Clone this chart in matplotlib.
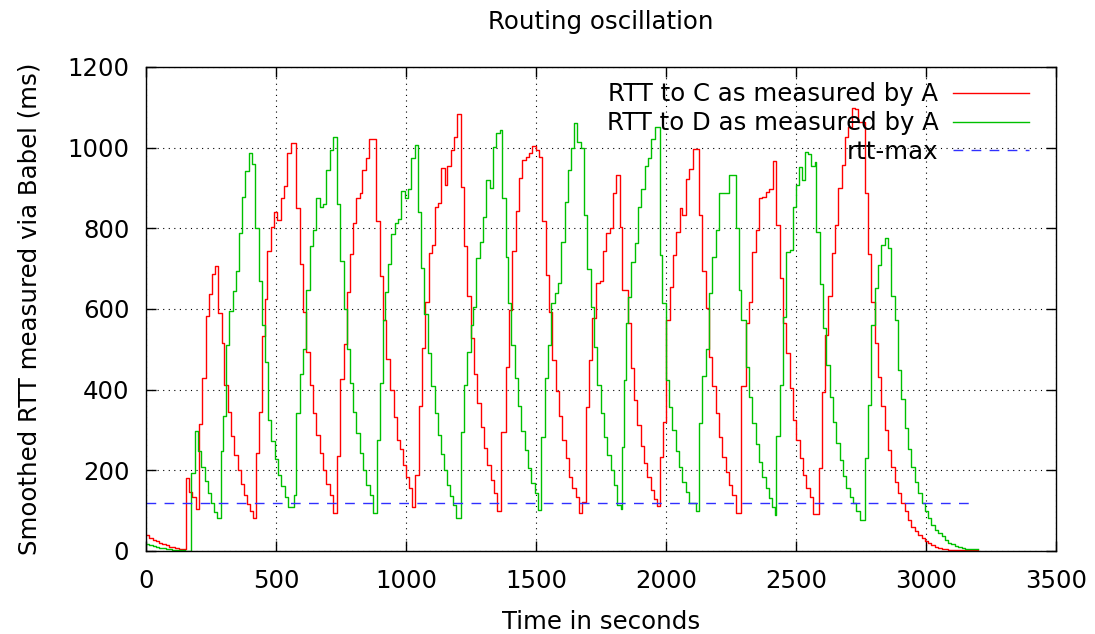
import matplotlib
matplotlib.use("Agg")
import matplotlib.pyplot as plt

# smoothed RTT to C (red) : step start time (s) and value (ms)
red_t = [0, 12, 25, 37, 50, 62, 75, 87, 100, 112, 125, 137,
         152, 165, 178, 191, 204, 217, 229, 242, 253, 265, 278, 291, 301, 314, 327, 340, 353, 365, 376, 388, 399, 412, 422, 435, 445,
         456, 467, 480, 492, 505, 518, 531, 544, 556, 578, 591, 604, 617, 630, 642, 655, 668, 681, 694, 706, 719, 735, 748, 760, 773, 786, 796, 809, 822, 832, 845, 858, 886, 899,
         912, 924, 940, 953, 965, 978, 988, 1001, 1012, 1024, 1036, 1049, 1062, 1074, 1087, 1100, 1110, 1123, 1136, 1149, 1159, 1172, 1185, 1197, 1210, 1223, 1236, 1249, 1262, 1274, 1287, 1300, 1313, 1326, 1338, 1351, 1367,
         1383, 1396, 1409, 1422, 1435, 1447, 1460, 1473, 1486, 1499, 1512, 1524, 1537, 1550, 1563, 1576, 1588, 1601, 1614, 1627, 1640, 1653, 1665, 1678, 1691, 1704, 1717, 1729, 1745, 1758, 1771, 1783, 1796, 1809, 1822, 1832,
         1854, 1864, 1877, 1890, 1903, 1915, 1928, 1941, 1954, 1967, 1976, 1988, 2001, 2014, 2027, 2040, 2053, 2063, 2076, 2089, 2104, 2127, 2140, 2153, 2165, 2178, 2191, 2204, 2217, 2229, 2242, 2255, 2268, 2290,
         2306, 2319, 2332, 2345, 2358, 2371, 2383, 2396, 2412, 2424, 2437, 2450, 2463, 2476, 2488, 2501, 2514, 2527, 2540, 2553, 2565, 2589, 2599, 2612, 2624, 2637, 2650, 2663, 2676, 2689, 2701, 2714, 2727, 2740,
         2766, 2777, 2790, 2803, 2815, 2828, 2841, 2854, 2867, 2880, 2893, 2905, 2918, 2931, 2944, 2958, 2970, 2983, 2996, 3008, 3021, 3034, 3047, 3060, 3073, 3086, 3111, 3200]
red_v = [40, 33, 28, 24, 20, 17, 14, 11, 9, 7, 5, 4,
         180, 147, 133, 104, 314, 430, 583, 637, 686, 707, 589, 515, 412, 344, 286, 238, 201, 165, 140, 116, 99, 81, 242, 344, 533,
         626, 745, 804, 841, 821, 874, 906, 986, 1012, 850, 711, 592, 494, 412, 343, 288, 242, 201, 165, 139, 95, 236, 426, 512, 641, 736, 814, 876, 888, 945, 974, 1021, 817, 682,
         573, 475, 399, 331, 275, 252, 213, 184, 157, 110, 188, 360, 504, 617, 738, 759, 852, 864, 949, 907, 955, 994, 1027, 1083, 903, 757, 631, 527, 440, 368, 307, 255, 213, 176, 145, 99, 296,
         457, 597, 744, 844, 926, 969, 978, 986, 1004, 994, 978, 817, 684, 593, 474, 397, 335, 275, 230, 183, 155, 133, 93, 122, 358, 474, 578, 665, 670, 744, 788, 802, 887, 932, 804, 648,
         565, 453, 374, 313, 261, 219, 183, 151, 128, 112, 234, 321, 572, 654, 733, 791, 850, 833, 922, 946, 996, 833, 694, 602, 482, 408, 343, 283, 234, 197, 164, 139, 95, 408,
         565, 618, 741, 796, 874, 877, 891, 897, 967, 808, 676, 565, 490, 403, 325, 275, 230, 188, 155, 133, 92, 206, 395, 536, 631, 738, 808, 899, 957, 1027, 1052, 1098, 1095, 1064,
         887, 737, 618, 515, 432, 360, 300, 250, 209, 172, 143, 118, 98, 77, 60, 50, 40, 33, 26, 19, 15, 11, 8, 6, 4, 3, 2, 2]

# smoothed RTT to D (green)
green_t = [0, 12, 25, 37, 50, 62, 75, 87, 100, 112, 125, 137, 150, 162,
           174, 187, 200, 213, 226, 238, 249, 262, 274, 287, 297, 308, 320, 333, 346, 359, 369, 382, 395, 408, 420, 433, 446,
           456, 469, 482, 495, 508, 521, 533, 546, 559, 568, 578, 591, 604, 617, 630, 642, 655, 668, 681, 694, 706, 719, 735, 748, 760, 773, 783, 796, 809, 822, 835, 848, 861, 873, 889, 899,
           912, 918, 931, 944, 956, 969, 982, 995, 1008, 1020, 1033, 1046, 1059, 1071, 1084, 1097, 1110, 1123, 1136, 1146, 1156, 1169, 1182, 1192, 1210, 1223, 1236, 1249, 1258, 1271, 1283, 1296, 1309, 1322, 1335, 1347, 1360, 1369,
           1383, 1392, 1405, 1418, 1431, 1444, 1456, 1469, 1482, 1495, 1508, 1521, 1533, 1546, 1559, 1572, 1585, 1598, 1610, 1623, 1636, 1646, 1659, 1672, 1685, 1697, 1710, 1723, 1736, 1749, 1762, 1774, 1787, 1800, 1813, 1826, 1832,
           1838, 1845, 1854, 1867, 1880, 1892, 1905, 1918, 1931, 1944, 1957, 1976, 1986, 1999, 2012, 2024, 2037, 2050, 2063, 2076, 2089, 2102, 2115, 2127, 2140, 2153, 2165, 2178, 2191, 2204, 2217, 2242, 2268, 2281, 2290,
           2306, 2319, 2332, 2345, 2358, 2371, 2383, 2396, 2409, 2418, 2424, 2437, 2450, 2463, 2476, 2488, 2501, 2512, 2524, 2533, 2546, 2559, 2572, 2578, 2591, 2604, 2617, 2629, 2642, 2655, 2668, 2681, 2694, 2706, 2719, 2732, 2745,
           2764, 2777, 2790, 2803, 2815, 2828, 2841, 2854, 2867, 2880, 2893, 2905, 2918, 2931, 2944, 2958, 2970, 2983, 2996, 3008, 3021, 3034, 3047, 3060, 3073, 3086, 3098, 3111, 3124, 3137, 3149, 3162, 3188, 3200]
green_v = [18, 15, 12, 10, 8, 7, 5, 4, 3, 3, 2, 2, 1, 1,
           194, 298, 249, 209, 174, 145, 118, 97, 81, 249, 335, 511, 596, 645, 693, 789, 877, 942, 988, 960, 802, 670, 560,
           469, 326, 273, 227, 188, 160, 133, 110, 108, 139, 343, 440, 500, 647, 755, 796, 874, 853, 860, 945, 994, 1027, 860, 719, 600, 502, 417, 345, 292, 244, 201, 164, 139, 95, 274, 416,
           573, 643, 711, 787, 812, 824, 893, 876, 897, 975, 1007, 841, 701, 587, 490, 409, 343, 288, 240, 201, 164, 137, 114, 81, 296, 412, 494, 560, 606, 726, 767, 829, 920, 899, 1001, 1037, 1045, 874,
           730, 614, 511, 429, 360, 298, 250, 207, 169, 143, 102, 283, 429, 511, 614, 640, 664, 766, 866, 945, 998, 1060, 1015, 998, 833, 700, 604, 507, 412, 343, 283, 238, 202, 164, 114, 105, 257,
           424, 565, 630, 716, 763, 854, 897, 955, 974, 1021, 1052, 735, 614, 424, 358, 300, 249, 209, 172, 147, 118, 118, 98, 317, 433, 500, 640, 730, 796, 887, 887, 933, 800, 648, 572,
           457, 383, 318, 265, 221, 184, 155, 131, 110, 89, 286, 412, 581, 741, 747, 852, 907, 953, 920, 990, 985, 955, 965, 792, 661, 552, 461, 383, 320, 267, 226, 186, 155, 133, 118, 100, 77,
           230, 362, 560, 651, 709, 759, 775, 750, 631, 572, 449, 378, 304, 253, 209, 172, 143, 118, 98, 81, 64, 52, 44, 36, 27, 21, 17, 12, 9, 7, 5, 4, 5, 5]

rtt_max_t = [0, 3170]
rtt_max_v = [120, 120]

plt.rcParams["font.family"] = "DejaVu Sans"
plt.rcParams["font.size"] = 17.6

fig = plt.figure(figsize=(10.95, 6.34), dpi=100, facecolor="white")
ax = fig.add_axes([146 / 1095, 1 - 551 / 634, 910 / 1095, 484 / 634])

ax.step(red_t, red_v, where="post", color="#ff0000", lw=1.0,
        label="RTT to C as measured by A")
ax.step(green_t, green_v, where="post", color="#00c000", lw=1.0,
        label="RTT to D as measured by A")
ax.plot(rtt_max_t, rtt_max_v, color="#3030ff", lw=1.0, dashes=(7, 6),
        label="rtt-max")

ax.set_xlim(0, 3500)
ax.set_ylim(0, 1200)
ax.set_xticks(range(0, 3501, 500))
ax.set_yticks(range(0, 1201, 200))
ax.grid(True, color="black", lw=0.8, ls=(0, (1, 4)))
ax.tick_params(direction="in", length=7, width=1, top=True, right=True)
ax.tick_params(axis="x", pad=13)
ax.tick_params(axis="y", pad=12)
for s in ax.spines.values():
    s.set_linewidth(1.0)

fig.text(601 / 1095, 1 - 22 / 634, "Routing oscillation", ha="center", va="center")
fig.text(601 / 1095, 1 - 622 / 634, "Time in seconds", ha="center", va="center")
fig.text(30 / 1095, 1 - 309 / 634, "Smoothed RTT measured via Babel (ms)",
         ha="center", va="center", rotation=90)

ax.legend(loc="upper right", bbox_to_anchor=(1041 / 1095, 1 - 70 / 634),
          bbox_transform=fig.transFigure, frameon=False, markerfirst=False,
          handlelength=3.1, handletextpad=0.6, labelspacing=0.2, borderpad=0)

fig.savefig("out.png", dpi=100, facecolor="white")
